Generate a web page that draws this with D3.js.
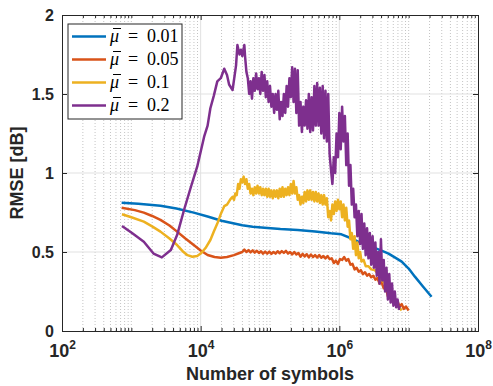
<!DOCTYPE html>
<html>
<head>
<meta charset="utf-8">
<script src="https://cdn.jsdelivr.net/npm/d3@7"></script>
<style>
  body { margin: 0; background: #fff; }
  svg { display: block; }
</style>
</head>
<body>
<svg id="chart"></svg>
<script>
// x values are log10(number of symbols), y values are RMSE in dB
const mu001 = [[2.86,0.812],[3.1,0.806],[3.42,0.793],[3.65,0.775],[3.9,0.749],[4.1,0.725],[4.3,0.698],[4.45,0.683],[4.6,0.669],[4.75,0.66],[4.92,0.654],[5.15,0.645],[5.4,0.639],[5.65,0.63],[5.88,0.618],[6.03,0.612],[6.17,0.587],[6.3,0.56],[6.46,0.534],[6.6,0.51],[6.71,0.49],[6.8,0.466],[6.9,0.439],[7.0,0.395],[7.09,0.344],[7.2,0.285],[7.33,0.217]];

const mu005 = [[2.86,0.78],[3.05,0.765],[3.18,0.749],[3.3,0.728],[3.42,0.703],[3.55,0.668],[3.66,0.629],[3.78,0.585],[3.9,0.544],[4.0,0.51],[4.1,0.481],[4.2,0.468],[4.29,0.463],[4.38,0.468],[4.48,0.48],[4.55,0.492],[4.6,0.5],[4.63,0.515],[4.66,0.5],[4.69,0.512],[4.72,0.498],[4.75,0.51],[4.78,0.496],[4.81,0.508],[4.84,0.494],[4.87,0.505],[4.9,0.49],[4.93,0.503],[4.96,0.49],[4.99,0.502],[5.02,0.488],[5.05,0.5],[5.08,0.49],[5.11,0.505],[5.14,0.492],[5.17,0.506],[5.2,0.494],[5.23,0.507],[5.26,0.49],[5.29,0.5],[5.32,0.485],[5.35,0.5],[5.38,0.484],[5.41,0.494],[5.44,0.47],[5.47,0.488],[5.5,0.472],[5.53,0.486],[5.56,0.466],[5.59,0.484],[5.62,0.468],[5.65,0.48],[5.68,0.465],[5.71,0.48],[5.74,0.464],[5.77,0.475],[5.8,0.46],[5.83,0.474],[5.86,0.455],[5.89,0.46],[5.92,0.43],[5.95,0.445],[5.98,0.425],[6.01,0.455],[6.04,0.45],[6.07,0.468],[6.1,0.445],[6.13,0.455],[6.16,0.42],[6.19,0.425],[6.22,0.39],[6.25,0.4],[6.28,0.375],[6.31,0.385],[6.34,0.36],[6.37,0.372],[6.4,0.35],[6.43,0.36],[6.46,0.34],[6.49,0.35],[6.52,0.325],[6.55,0.335],[6.58,0.3],[6.61,0.31],[6.64,0.27],[6.67,0.28],[6.7,0.22],[6.72,0.24],[6.75,0.19],[6.78,0.21],[6.81,0.17],[6.84,0.185],[6.87,0.155],[6.9,0.17],[6.93,0.14],[6.96,0.155],[7.0,0.13]];

const mu01 = [[2.865,0.739],[3.0,0.72],[3.18,0.692],[3.3,0.662],[3.42,0.629],[3.55,0.585],[3.66,0.544],[3.74,0.505],[3.81,0.48],[3.88,0.47],[3.95,0.475],[4.0,0.49],[4.07,0.525],[4.14,0.576],[4.19,0.63],[4.24,0.68],[4.29,0.74],[4.34,0.79],[4.38,0.8],[4.43,0.835],[4.46,0.85],[4.48,0.83],[4.5,0.87],[4.52,0.86],[4.54,0.93],[4.56,0.9],[4.58,0.96],[4.6,0.94],[4.62,0.977],[4.64,0.93],[4.66,0.96],[4.68,0.9],[4.7,0.93],[4.72,0.87],[4.74,0.9],[4.76,0.86],[4.78,0.91],[4.8,0.87],[4.82,0.92],[4.84,0.87],[4.86,0.91],[4.88,0.86],[4.9,0.9],[4.92,0.86],[4.94,0.9],[4.96,0.85],[4.98,0.9],[5.0,0.85],[5.02,0.89],[5.04,0.84],[5.06,0.89],[5.08,0.85],[5.1,0.89],[5.12,0.84],[5.14,0.9],[5.16,0.85],[5.18,0.91],[5.2,0.85],[5.22,0.9],[5.24,0.86],[5.26,0.91],[5.28,0.86],[5.3,0.93],[5.32,0.87],[5.34,0.95],[5.36,0.87],[5.38,0.91],[5.4,0.83],[5.42,0.86],[5.44,0.8],[5.46,0.85],[5.48,0.81],[5.5,0.88],[5.52,0.82],[5.54,0.89],[5.56,0.83],[5.58,0.89],[5.6,0.83],[5.62,0.88],[5.64,0.82],[5.66,0.88],[5.68,0.82],[5.7,0.87],[5.72,0.81],[5.74,0.86],[5.76,0.8],[5.78,0.86],[5.8,0.8],[5.82,0.84],[5.84,0.72],[5.86,0.76],[5.88,0.7],[5.9,0.8],[5.92,0.74],[5.94,0.82],[5.96,0.76],[5.98,0.83],[6.0,0.77],[6.02,0.82],[6.04,0.72],[6.06,0.8],[6.08,0.7],[6.1,0.78],[6.12,0.66],[6.14,0.7],[6.16,0.58],[6.18,0.62],[6.2,0.52],[6.22,0.6],[6.24,0.48],[6.26,0.56],[6.28,0.46],[6.3,0.5],[6.32,0.44],[6.35,0.45],[6.38,0.41],[6.42,0.41],[6.46,0.39],[6.51,0.386],[6.56,0.36],[6.61,0.323],[6.66,0.3],[6.71,0.28],[6.73,0.23],[6.76,0.2],[6.8,0.175],[6.85,0.154],[6.9,0.13]];

const mu02 = [[2.865,0.665],[3.01,0.62],[3.18,0.565],[3.32,0.49],[3.44,0.466],[3.57,0.513],[3.66,0.607],[3.76,0.766],[3.86,0.913],[3.95,1.04],[4.05,1.23],[4.1,1.3],[4.14,1.41],[4.19,1.49],[4.24,1.58],[4.29,1.6],[4.34,1.66],[4.38,1.62],[4.41,1.56],[4.46,1.525],[4.51,1.68],[4.53,1.81],[4.56,1.75],[4.58,1.78],[4.6,1.74],[4.63,1.81],[4.64,1.74],[4.66,1.64],[4.68,1.6],[4.7,1.5],[4.72,1.58],[4.74,1.47],[4.76,1.6],[4.78,1.52],[4.8,1.63],[4.82,1.53],[4.84,1.6],[4.86,1.5],[4.88,1.64],[4.9,1.52],[4.92,1.62],[4.94,1.48],[4.96,1.58],[4.98,1.45],[5.0,1.55],[5.02,1.42],[5.04,1.5],[5.06,1.38],[5.08,1.5],[5.1,1.4],[5.12,1.52],[5.14,1.34],[5.16,1.45],[5.18,1.36],[5.2,1.5],[5.22,1.38],[5.24,1.55],[5.26,1.42],[5.28,1.6],[5.3,1.48],[5.32,1.67],[5.34,1.45],[5.36,1.66],[5.38,1.38],[5.4,1.65],[5.42,1.3],[5.44,1.45],[5.46,1.26],[5.48,1.42],[5.5,1.3],[5.52,1.46],[5.54,1.28],[5.56,1.5],[5.58,1.26],[5.6,1.48],[5.62,1.27],[5.64,1.55],[5.66,1.3],[5.68,1.57],[5.7,1.3],[5.72,1.54],[5.74,1.25],[5.76,1.55],[5.78,1.22],[5.8,1.52],[5.82,1.2],[5.84,1.5],[5.86,1.12],[5.88,1.02],[5.9,0.93],[5.92,1.1],[5.94,1.0],[5.96,1.25],[5.98,1.1],[6.0,1.38],[6.02,1.15],[6.04,1.42],[6.06,1.2],[6.08,1.36],[6.1,1.05],[6.12,1.25],[6.14,0.92],[6.16,1.05],[6.18,0.8],[6.2,0.9],[6.22,0.72],[6.24,0.8],[6.26,0.6],[6.28,0.76],[6.3,0.55],[6.32,0.74],[6.34,0.52],[6.36,0.68],[6.38,0.48],[6.4,0.65],[6.42,0.46],[6.44,0.62],[6.46,0.42],[6.48,0.6],[6.5,0.4],[6.52,0.56],[6.54,0.35],[6.56,0.5],[6.58,0.3],[6.6,0.58],[6.62,0.32],[6.64,0.45],[6.66,0.25],[6.68,0.4],[6.7,0.2],[6.72,0.36],[6.74,0.18],[6.76,0.3],[6.78,0.16],[6.8,0.25],[6.82,0.15],[6.84,0.2],[6.86,0.14],[6.87,0.16]];

const seriesList = [mu001, mu005, mu01, mu02];
const legendLabels = ["0.01", "0.05", "0.1", "0.2"];
const colors = ["#0072BD", "#D95319", "#EDB120", "#7E2F8E"];
const xTickExps = [2, 4, 6, 8];
const yTicks = [0, 0.5, 1, 1.5, 2];

const svgWidth = 493;
const svgHeight = 386;
const margin = { top: 15, right: 15, bottom: 55, left: 62 };
const width = svgWidth - margin.left - margin.right;
const height = svgHeight - margin.top - margin.bottom;
const axisColor = "#262626";
const font = "'Liberation Sans', Arial, Helvetica, sans-serif";
const serif = "'Liberation Serif', 'DejaVu Serif', serif";

const svg = d3.select("#chart")
  .attr("width", svgWidth)
  .attr("height", svgHeight);

const chart = svg.append("g")
  .attr("transform", "translate(" + margin.left + "," + margin.top + ")");

const xScale = d3.scaleLog().domain([1e2, 1e8]).range([0, width]);
const yScale = d3.scaleLinear().domain([0, 2]).range([height, 0]);

const majorX = xTickExps.map(e => Math.pow(10, e));
// minor ticks: every k*10^n that is not a labelled tick
const minorX = [];
for (let n = 2; n < 8; n++) {
  for (let k = 1; k <= 9; k++) {
    const v = k * Math.pow(10, n);
    if (!majorX.includes(v)) minorX.push(v);
  }
}

// minor grid (dotted)
chart.append("g").selectAll("line")
  .data(minorX)
  .enter().append("line")
  .attr("x1", d => xScale(d)).attr("x2", d => xScale(d))
  .attr("y1", 0).attr("y2", height)
  .attr("stroke", "#c4c4c4")
  .attr("stroke-width", 1)
  .attr("stroke-dasharray", "1,2");

// major grid
chart.append("g").selectAll("line")
  .data(majorX.slice(1, -1))
  .enter().append("line")
  .attr("x1", d => xScale(d)).attr("x2", d => xScale(d))
  .attr("y1", 0).attr("y2", height)
  .attr("stroke", "#e1e1e1");

chart.append("g").selectAll("line")
  .data(yTicks.slice(1, -1))
  .enter().append("line")
  .attr("x1", 0).attr("x2", width)
  .attr("y1", d => yScale(d)).attr("y2", d => yScale(d))
  .attr("stroke", "#e1e1e1");

// the lines
const line = d3.line()
  .x(d => xScale(Math.pow(10, d[0])))
  .y(d => yScale(d[1]));

chart.selectAll(".series")
  .data(seriesList)
  .enter().append("path")
  .attr("class", "series")
  .attr("d", line)
  .attr("fill", "none")
  .attr("stroke", (d, i) => colors[i])
  .attr("stroke-width", 2.5)
  .attr("stroke-linejoin", "round");

// axes, ticks pointing inward on all four sides
const xAxis = chart.append("g")
  .attr("transform", "translate(0," + height + ")")
  .call(d3.axisBottom(xScale).tickValues(majorX).tickSize(-5).tickFormat(""));
chart.append("g")
  .attr("transform", "translate(0," + height + ")")
  .call(d3.axisBottom(xScale).tickValues(minorX).tickSize(-3).tickFormat(""));
chart.append("g")
  .call(d3.axisTop(xScale).tickValues(majorX).tickSize(-5).tickFormat(""));
chart.append("g")
  .call(d3.axisTop(xScale).tickValues(minorX).tickSize(-3).tickFormat(""));

const yAxis = chart.append("g")
  .call(d3.axisLeft(yScale).tickValues(yTicks).tickSize(-5).tickPadding(8)
    .tickFormat(d => d3.format("")(d)));
chart.append("g")
  .attr("transform", "translate(" + width + ",0)")
  .call(d3.axisRight(yScale).tickValues(yTicks).tickSize(-5).tickFormat(""));

chart.selectAll(".domain").attr("stroke", axisColor);
chart.selectAll(".tick line").attr("stroke", axisColor);

yAxis.selectAll("text")
  .attr("fill", axisColor)
  .style("font-family", font)
  .style("font-weight", "bold")
  .style("font-size", "16px");

// x tick labels as 10 with a superscript
xAxis.selectAll(".tick")
  .append("text")
  .attr("y", 26)
  .attr("text-anchor", "middle")
  .attr("fill", axisColor)
  .style("font-family", font)
  .style("font-weight", "bold")
  .style("font-size", "18px")
  .each(function (d) {
    const t = d3.select(this);
    t.append("tspan").text("10");
    t.append("tspan")
      .attr("dy", -8)
      .style("font-size", "12px")
      .text(Math.round(Math.log10(d)));
  });

// axis titles
svg.append("text")
  .attr("x", margin.left + width / 2)
  .attr("y", 380)
  .attr("text-anchor", "middle")
  .attr("fill", axisColor)
  .style("font-family", font)
  .style("font-weight", "bold")
  .style("font-size", "18px")
  .text("Number of symbols");

svg.append("text")
  .attr("transform", "translate(23," + (margin.top + height / 2) + ") rotate(-90)")
  .attr("text-anchor", "middle")
  .attr("fill", axisColor)
  .style("font-family", font)
  .style("font-weight", "bold")
  .style("font-size", "18px")
  .text("RMSE [dB]");

// legend
const legend = svg.append("g").attr("transform", "translate(68,24)");
legend.append("rect")
  .attr("width", 114)
  .attr("height", 95)
  .attr("fill", "#fff")
  .attr("stroke", axisColor)
  .attr("stroke-width", 1);

const rows = legend.selectAll(".row")
  .data(legendLabels)
  .enter().append("g")
  .attr("class", "row")
  .attr("transform", (d, i) => "translate(0," + (12.5 + i * 23) + ")");

rows.append("line")
  .attr("x1", 4).attr("x2", 38)
  .attr("stroke", (d, i) => colors[i])
  .attr("stroke-width", 2.5);

// mu with a bar over it, then "= value"
rows.append("text")
  .attr("x", 42)
  .attr("y", 5)
  .attr("fill", "#000")
  .style("font-family", serif)
  .style("font-style", "italic")
  .style("font-size", "18px")
  .text("\u03bc");
rows.append("line")
  .attr("x1", 45).attr("x2", 53)
  .attr("y1", -8).attr("y2", -8)
  .attr("stroke", "#000")
  .attr("stroke-width", 1);
rows.append("text")
  .attr("x", 60)
  .attr("y", 5)
  .attr("fill", "#000")
  .style("font-family", serif)
  .style("font-size", "18px")
  .text("=");
rows.append("text")
  .attr("x", 79)
  .attr("y", 5)
  .attr("fill", "#000")
  .style("font-family", serif)
  .style("font-size", "18px")
  .text(d => d);
</script>
</body>
</html>
